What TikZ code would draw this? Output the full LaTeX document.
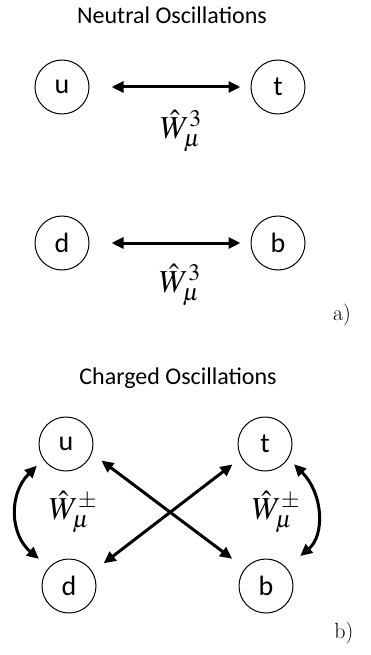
\documentclass[tikz,border=0pt]{standalone}
\usepackage{mathptmx}
\usepackage[no-math]{fontspec}
\renewcommand{\rmdefault}{lmr}
\newfontfamily\calibri{Carlito}
\usetikzlibrary{arrows.meta}

\begin{document}
\begin{tikzpicture}[
  x=1pt,y=-1pt,
  >={Triangle[length=12pt,width=11pt]},
  quark/.style={circle,draw,line width=1pt,minimum size=54pt,inner sep=0pt,
    font=\calibri\fontsize{28}{32}\selectfont},
  heading/.style={font=\calibri\fontsize{24}{28}\selectfont},
  coupling/.style={font=\fontsize{32}{38}\selectfont},
  mixing/.style={<->,line width=3pt},
  panel/.style={font=\fontsize{22}{26}\selectfont}
]
\useasboundingbox (0,0) rectangle (370,655);

% a) neutral oscillations: u <-> t and d <-> b through W^3
\node[heading] (neutral) at (172,15) {Neutral Oscillations};
\node[quark] (u1) at (62,87) {u};
\node[quark] (t1) at (278,87) {t};
\node[quark] (d1) at (62,243) {d};
\node[quark] (b1) at (278,243) {b};
\draw[mixing,shorten <=22pt,shorten >=10pt] (u1) -- (t1);
\draw[mixing,shorten <=22pt,shorten >=10pt] (d1) -- (b1);
\node[coupling] (w3top) at (181,131) {$\hat{W}^3_\mu$};
\node[coupling] (w3bot) at (180,285) {$\hat{W}^3_\mu$};
\node[panel] (panela) at (342,315) {a)};

% b) charged oscillations: up-type <-> down-type through W^+-
\node[heading] (charged) at (178,378) {Charged Oscillations};
\node[quark] (u2) at (66,444) {u};
\node[quark] (t2) at (265,444) {t};
\node[quark] (d2) at (69,586) {d};
\node[quark] (b2) at (266,586) {b};

% crossing arrows
\draw[mixing,shorten <=12pt,shorten >=16pt] (u2.-20) -- (b2.140);
\draw[mixing,shorten <=11pt,shorten >=14pt] (t2.210) -- (d2.31);

% bent arrows on the outside
\draw[mixing,shorten <=9pt,shorten >=13pt]
  (u2.214) .. controls +(225:50pt) and +(140:50pt) .. (d2.137);
\draw[mixing,shorten <=8pt,shorten >=18pt]
  (t2.-32) .. controls +(-45:50pt) and +(40:50pt) .. (b2.42);

\node[coupling] (wpmleft) at (73,512) {$\hat{W}^\pm_\mu$};
\node[coupling] (wpmright) at (276,512) {$\hat{W}^\pm_\mu$};
\node[panel] (panelb) at (344,633) {b)};
\end{tikzpicture}
\end{document}
